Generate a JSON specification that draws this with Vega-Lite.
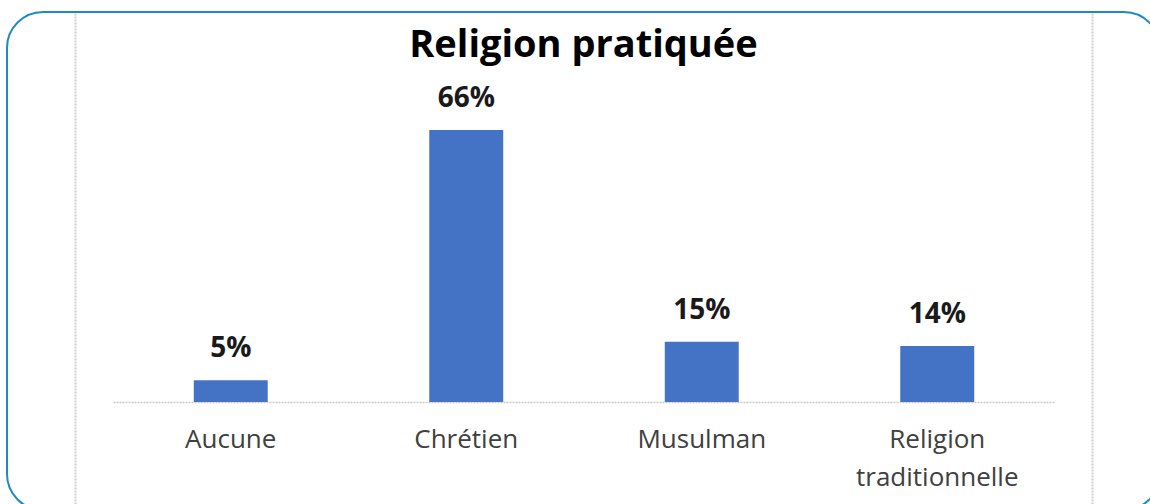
{
  "$schema": "https://vega.github.io/schema/vega-lite/v6.json",
  "width": 1153,
  "height": 498,
  "padding": {"left": 7, "top": 12, "right": 0, "bottom": 0},
  "autosize": {"type": "none"},
  "background": "white",
  "title": {
    "text": "Religion pratiquée",
    "frame": "group",
    "anchor": "middle",
    "orient": "top",
    "offset": -83,
    "baseline": "alphabetic",
    "font": "Open Sans",
    "fontSize": 38,
    "fontWeight": "bold",
    "color": "#000000"
  },
  "config": {
    "view": {"stroke": "#1f8ac0", "strokeWidth": 2, "cornerRadius": 36}
  },
  "data": {
    "values": [
      {"religion": "Aucune", "share": 0.053},
      {"religion": "Chrétien", "share": 0.66},
      {"religion": "Musulman", "share": 0.146},
      {"religion": "Religion traditionnelle", "share": 0.136}
    ]
  },
  "layer": [
    {
      "mark": {"type": "bar", "color": "#4472c4"},
      "encoding": {
        "x": {
          "field": "religion",
          "type": "nominal",
          "sort": null,
          "scale": {"range": [106, 1048], "paddingInner": 0.686, "paddingOuter": 0.343},
          "axis": {
            "orient": "bottom",
            "offset": -108,
            "title": null,
            "ticks": false,
            "grid": false,
            "domainColor": "#c8c8c8",
            "domainDash": [2, 1],
            "domainWidth": 1.5,
            "labelAngle": 0,
            "labelPadding": 24,
            "labelFont": "Open Sans",
            "labelFontSize": 26,
            "labelColor": "#404040",
            "labelLimit": 0,
            "labelLineHeight": 38,
            "labelExpr": "datum.value === 'Religion traditionnelle' ? ['Religion', 'traditionnelle'] : datum.label"
          }
        },
        "y": {
          "field": "share",
          "type": "quantitative",
          "scale": {"domain": [-0.262, 0.946], "nice": false, "zero": false},
          "axis": {
            "orient": "left",
            "offset": -68,
            "title": null,
            "labels": false,
            "ticks": false,
            "grid": false,
            "domainColor": "#d0d0d0",
            "domainDash": [2, 1],
            "domainWidth": 2
          }
        },
        "y2": {"datum": 0}
      }
    },
    {
      "mark": {
        "type": "text",
        "baseline": "alphabetic",
        "dy": -23,
        "font": "Open Sans",
        "fontSize": 28,
        "fontWeight": "bold",
        "color": "#1a1a1a"
      },
      "encoding": {
        "x": {"field": "religion", "type": "nominal", "sort": null},
        "y": {
          "field": "share",
          "type": "quantitative",
          "axis": {
            "orient": "right",
            "offset": -68,
            "title": null,
            "labels": false,
            "ticks": false,
            "grid": false,
            "domainColor": "#d0d0d0",
            "domainDash": [2, 1],
            "domainWidth": 2
          }
        },
        "text": {"field": "share", "type": "quantitative", "format": ".0%"}
      }
    }
  ],
  "resolve": {"axis": {"y": "independent"}}
}
